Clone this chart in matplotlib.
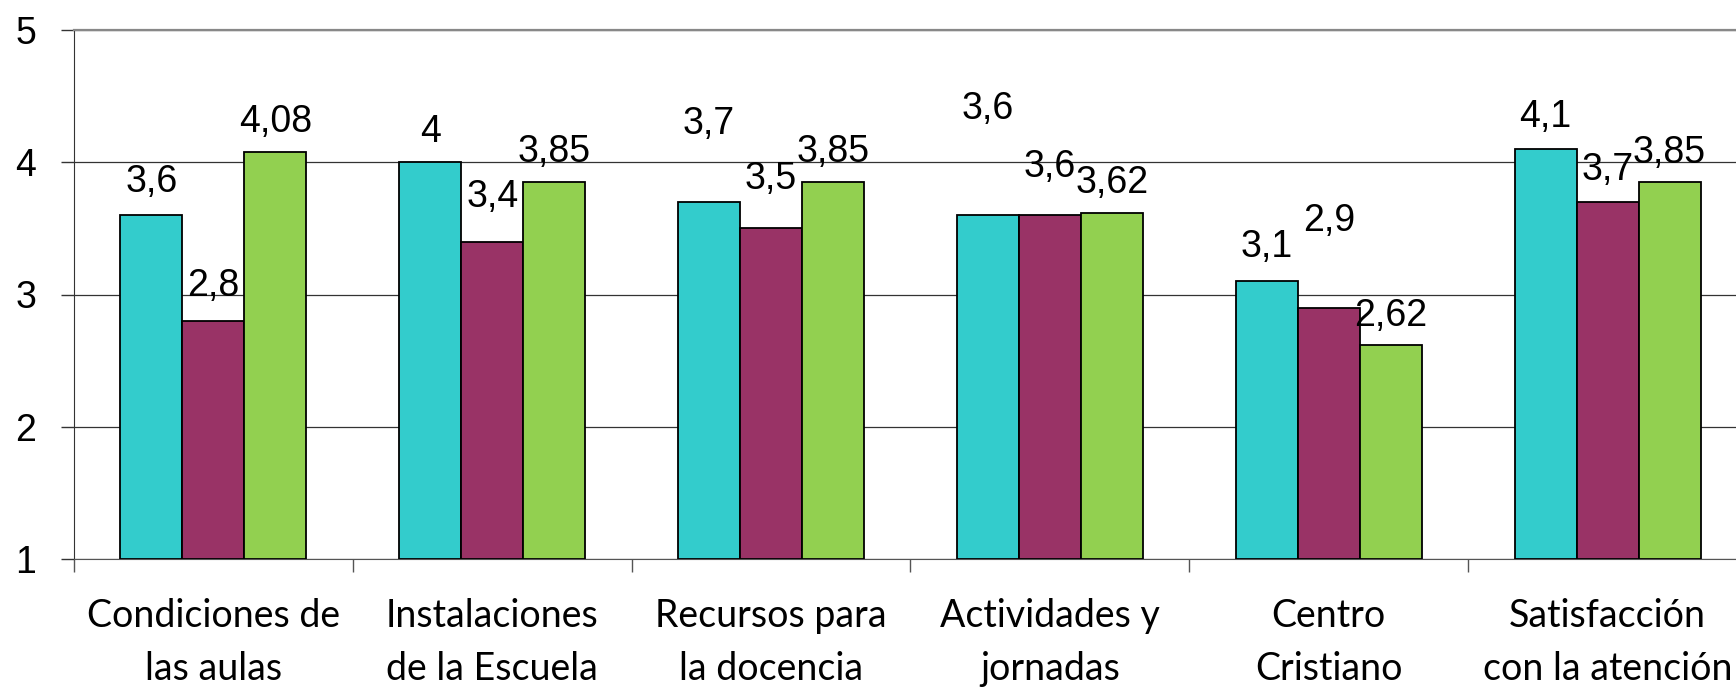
"""
Encuesta de satisfacción: barras agrupadas por aspecto evaluado
"""
import numpy as np
import matplotlib
matplotlib.use("Agg")
import matplotlib.pyplot as plt

categorias = ["Condiciones de\nlas aulas", "Instalaciones\nde la Escuela",
              "Recursos para\nla docencia", "Actividades y\njornadas",
              "Centro\nCristiano", "Satisfacción\ncon la atención"]
serie_a = [3.6, 4.0, 3.7, 3.6, 3.1, 4.1]
serie_b = [2.8, 3.4, 3.5, 3.6, 2.9, 3.7]
serie_c = [4.08, 3.85, 3.85, 3.62, 2.62, 3.85]

colores = ["#33CCCC", "#993366", "#92D050"]

# distancia (px) entre la etiqueta y el techo de la barra, como en el original
sep_a = [23, 20, 68, 96, 24, 22]
sep_b = [25, 35, 39, 38, 77, 22]
sep_c = [20, 20, 20, 20, 19, 19]


def etiqueta(v):
    return f"{v:g}".replace(".", ",")


def main():
    fig = plt.figure(figsize=(17.36, 6.91), dpi=100)
    ax = fig.add_axes([74 / 1736, 132 / 691, 1673 / 1736, 529 / 691])

    x = np.arange(len(categorias))
    w = 1 / 4.5
    series = [serie_a, serie_b, serie_c]
    seps = [sep_a, sep_b, sep_c]
    px = 72 / 100

    for i, vals in enumerate(series):
        pos = x + (i - 1) * w
        ax.bar(pos, np.array(vals) - 1, w, bottom=1, color=colores[i],
               edgecolor="black", linewidth=1.3, zorder=3)
        for p, v, s in zip(pos, vals, seps[i]):
            ax.annotate(etiqueta(v), (p, v), xytext=(0, s * px),
                        textcoords="offset points", ha="center", va="baseline",
                        fontsize=27, family="Liberation Sans", zorder=4)

    ax.set_ylim(1, 5)
    ax.set_xlim(-0.5, len(categorias) - 0.5)
    ax.set_yticks([1, 2, 3, 4, 5])
    ax.set_yticklabels(["1", "2", "3", "4", "5"], fontsize=27,
                       family="Liberation Sans")
    ax.tick_params(axis="y", direction="out", length=9.4, width=1,
                   color="#333333", pad=18)
    ax.grid(axis="y", color="#333333", linewidth=0.9, zorder=0)

    ax.set_xticks(np.arange(-0.5, len(categorias)), minor=False)
    ax.set_xticklabels([])
    ax.set_xticks(x, minor=True)
    ax.set_xticklabels(categorias, minor=True, fontsize=27, family="Lato",
                       linespacing=1.6)
    ax.tick_params(axis="x", which="major", direction="out", length=9.4,
                   width=1, color="#555555")
    ax.tick_params(axis="x", which="minor", length=0, pad=28)

    ax.spines["right"].set_visible(False)
    ax.spines["top"].set_color("#888888")
    ax.spines["top"].set_linewidth(1.6)
    ax.spines["left"].set_color("#333333")
    ax.spines["bottom"].set_color("#555555")

    fig.savefig("out.png", dpi=100)


main()
